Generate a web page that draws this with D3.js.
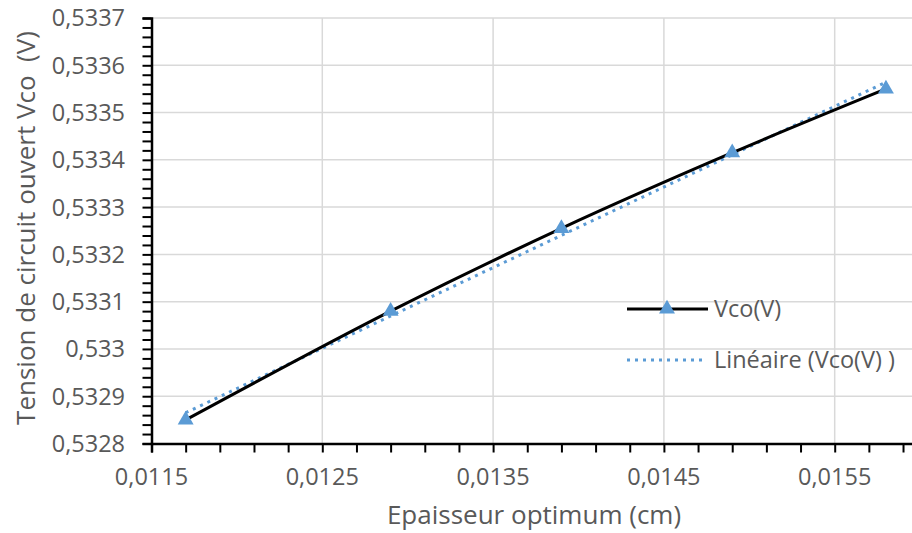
<!DOCTYPE html>
<html>
<head>
<meta charset="utf-8">
<script src="https://cdn.jsdelivr.net/npm/d3@7"></script>
<style>
  html, body { margin: 0; padding: 0; background: #fff; }
  svg { display: block; }
  text { font-family: "Open Sans", "Noto Sans", sans-serif; fill: #595959; }
</style>
</head>
<body>
<svg id="chart" width="912" height="533"></svg>
<script>
// Open-circuit voltage against optimum thickness
const thickness = [0.0117, 0.0129, 0.0139, 0.0149, 0.0158];
const vco = [0.53285, 0.53308, 0.533255, 0.533415, 0.53355];

const xTicks = [0.0115, 0.0125, 0.0135, 0.0145, 0.0155];
const yTicks = [0.5328, 0.5329, 0.533, 0.5331, 0.5332, 0.5333, 0.5334, 0.5335, 0.5336, 0.5337];

const xTitle = "Epaisseur optimum (cm)";
const yTitle = "Tension de circuit ouvert Vco\u00a0 (V)";
const legendLabels = ["Vco(V)", "Linéaire (Vco(V) )"];

const svg = d3.select("#chart");
const fmt = v => String(+v.toFixed(5)).replace(".", ",");
const labelSize = 23.5;

const x = d3.scaleLinear().domain([0.0115, 0.016]).range([151.5, 920.1]);
const y = d3.scaleLinear().domain([0.5328, 0.5337]).range([443.5, 18]);

// gridlines
svg.append("g").selectAll("line").data(yTicks.slice(1)).join("line")
  .attr("x1", x(0.0115)).attr("x2", 912)
  .attr("y1", d => y(d)).attr("y2", d => y(d))
  .attr("stroke", "#d9d9d9").attr("stroke-width", 1.5);
svg.append("g").selectAll("line").data(xTicks.slice(1)).join("line")
  .attr("x1", d => x(d)).attr("x2", d => x(d))
  .attr("y1", y(0.5337)).attr("y2", y(0.5328))
  .attr("stroke", "#d9d9d9").attr("stroke-width", 1.5);

// minor ticks
const yMinor = d3.range(0, 46).map(i => 0.5328 + i * 0.00002);
const xMinor = d3.range(0, 23).map(i => 0.0115 + i * 0.0002);

const yAxis = d3.axisLeft(y).tickValues(yMinor).tickSize(9).tickFormat("");
const gy = svg.append("g").attr("transform", `translate(${x(0.0115)},0)`).call(yAxis);
const xAxis = d3.axisBottom(x).tickValues(xMinor.filter(d => d <= 0.016)).tickSize(9).tickFormat("");
const gx = svg.append("g").attr("transform", `translate(0,${y(0.5328)})`).call(xAxis);
[gy, gx].forEach(g => {
  g.select(".domain").attr("stroke", "#000").attr("stroke-width", 2.5);
  g.selectAll(".tick line").attr("stroke", "#000").attr("stroke-width", 2);
});

// tick labels
svg.append("g").selectAll("text").data(yTicks).join("text")
  .attr("x", 125).attr("y", d => y(d)).attr("dy", "0.36em")
  .attr("text-anchor", "end").attr("font-size", labelSize).text(fmt);
svg.append("g").selectAll("text").data(xTicks).join("text")
  .attr("x", d => x(d)).attr("y", 485)
  .attr("text-anchor", "middle").attr("font-size", labelSize).text(fmt);

// axis titles
svg.append("text").attr("x", 534).attr("y", 524).attr("text-anchor", "middle")
  .attr("font-size", 26).text(xTitle);
svg.append("text").attr("transform", "translate(35,228) rotate(-90)")
  .attr("text-anchor", "middle").attr("font-size", 26).text(yTitle);

// linear trend (least squares)
const pts = thickness.map((t, i) => [t, vco[i]]);
const mt = d3.mean(thickness), mv = d3.mean(vco);
const slope = d3.sum(pts, p => (p[0] - mt) * (p[1] - mv)) / d3.sum(pts, p => (p[0] - mt) ** 2);
const icpt = mv - slope * mt;
const trendX = d3.extent(thickness);
svg.append("line")
  .attr("x1", x(trendX[0])).attr("y1", y(icpt + slope * trendX[0]))
  .attr("x2", x(trendX[1])).attr("y2", y(icpt + slope * trendX[1]))
  .attr("stroke", "#5b9bd5").attr("stroke-width", 3)
  .attr("stroke-dasharray", "3,5").attr("stroke-linecap", "butt");

// smoothed series line
const line = d3.line().x(d => x(d[0])).y(d => y(d[1])).curve(d3.curveCatmullRom.alpha(0.5));
svg.append("path").datum(pts).attr("d", line)
  .attr("fill", "none").attr("stroke", "#000").attr("stroke-width", 3);

const tri = d3.symbol().type(d3.symbolTriangle).size(110);
svg.append("g").selectAll("path").data(pts).join("path")
  .attr("d", tri).attr("transform", d => `translate(${x(d[0])},${y(d[1])})`)
  .attr("fill", "#5b9bd5");

// legend
const lg = svg.append("g");
lg.append("line").attr("x1", 627).attr("x2", 708).attr("y1", 309).attr("y2", 309)
  .attr("stroke", "#000").attr("stroke-width", 3);
lg.append("path").attr("d", tri).attr("transform", "translate(667,309)").attr("fill", "#5b9bd5");
lg.append("text").attr("x", 714).attr("y", 309).attr("dy", "0.36em").attr("font-size", labelSize).text(legendLabels[0]);
lg.append("line").attr("x1", 627).attr("x2", 705).attr("y1", 360).attr("y2", 360)
  .attr("stroke", "#5b9bd5").attr("stroke-width", 3).attr("stroke-dasharray", "3,5");
lg.append("text").attr("x", 714).attr("y", 360).attr("dy", "0.36em").attr("font-size", labelSize).text(legendLabels[1]);
</script>
</body>
</html>
